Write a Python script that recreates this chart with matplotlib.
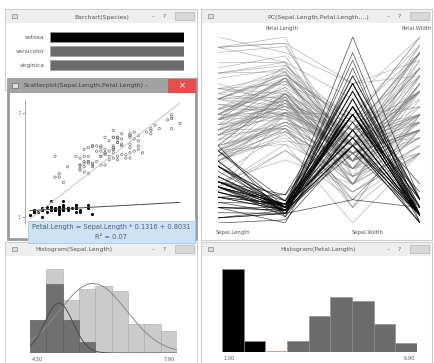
import numpy as np
import matplotlib
matplotlib.use('Agg')
import matplotlib.pyplot as plt
from matplotlib.patches import Rectangle

plt.rcParams['font.family'] = ['DejaVu Sans']

# iris data (50 setosa, 50 versicolor, 50 virginica)
sepal_length = [
    5.1, 4.9, 4.7, 4.6, 5.0, 5.4, 4.6, 5.0, 4.4, 4.9, 5.4, 4.8, 4.8, 4.3, 5.8, 5.7, 5.4, 5.1, 5.7, 5.1,
    5.4, 5.1, 4.6, 5.1, 4.8, 5.0, 5.0, 5.2, 5.2, 4.7, 4.8, 5.4, 5.2, 5.5, 4.9, 5.0, 5.5, 4.9, 4.4, 5.1,
    5.0, 4.5, 4.4, 5.0, 5.1, 4.8, 5.1, 4.6, 5.3, 5.0,
    7.0, 6.4, 6.9, 5.5, 6.5, 5.7, 6.3, 4.9, 6.6, 5.2, 5.0, 5.9, 6.0, 6.1, 5.6, 6.7, 5.6, 5.8, 6.2, 5.6,
    5.9, 6.1, 6.3, 6.1, 6.4, 6.6, 6.8, 6.7, 6.0, 5.7, 5.5, 5.5, 5.8, 6.0, 5.4, 6.0, 6.7, 6.3, 5.6, 5.5,
    5.5, 6.1, 5.8, 5.0, 5.6, 5.7, 5.7, 6.2, 5.1, 5.7,
    6.3, 5.8, 7.1, 6.3, 6.5, 7.6, 4.9, 7.3, 6.7, 7.2, 6.5, 6.4, 6.8, 5.7, 5.8, 6.4, 6.5, 7.7, 7.7, 6.0,
    6.9, 5.6, 7.7, 6.3, 6.7, 7.2, 6.2, 6.1, 6.4, 7.2, 7.4, 7.9, 6.4, 6.3, 6.1, 7.7, 6.3, 6.4, 6.0, 6.9,
    6.7, 6.9, 5.8, 6.8, 6.7, 6.7, 6.3, 6.5, 6.2, 5.9]
sepal_width = [
    3.5, 3.0, 3.2, 3.1, 3.6, 3.9, 3.4, 3.4, 2.9, 3.1, 3.7, 3.4, 3.0, 3.0, 4.0, 4.4, 3.9, 3.5, 3.8, 3.8,
    3.4, 3.7, 3.6, 3.3, 3.4, 3.0, 3.4, 3.5, 3.4, 3.2, 3.1, 3.4, 4.1, 4.2, 3.1, 3.2, 3.5, 3.6, 3.0, 3.4,
    3.5, 2.3, 3.2, 3.5, 3.8, 3.0, 3.8, 3.2, 3.7, 3.3,
    3.2, 3.2, 3.1, 2.3, 2.8, 2.8, 3.3, 2.4, 2.9, 2.7, 2.0, 3.0, 2.2, 2.9, 2.9, 3.1, 3.0, 2.7, 2.2, 2.5,
    3.2, 2.8, 2.5, 2.8, 2.9, 3.0, 2.8, 3.0, 2.9, 2.6, 2.4, 2.4, 2.7, 2.7, 3.0, 3.4, 3.1, 2.3, 3.0, 2.5,
    2.6, 3.0, 2.6, 2.3, 2.7, 3.0, 2.9, 2.9, 2.5, 2.8,
    3.3, 2.7, 3.0, 2.9, 3.0, 3.0, 2.5, 2.9, 2.5, 3.6, 3.2, 2.7, 3.0, 2.5, 2.8, 3.2, 3.0, 3.8, 2.6, 2.2,
    3.2, 2.8, 2.8, 2.7, 3.3, 3.2, 2.8, 3.0, 2.8, 3.0, 2.8, 3.8, 2.8, 2.8, 2.6, 3.0, 3.4, 3.1, 3.0, 3.1,
    3.1, 3.1, 2.7, 3.2, 3.3, 3.0, 2.5, 3.0, 3.4, 3.0]
petal_length = [
    1.4, 1.4, 1.3, 1.5, 1.4, 1.7, 1.4, 1.5, 1.4, 1.5, 1.5, 1.6, 1.4, 1.1, 1.2, 1.5, 1.3, 1.4, 1.7, 1.5,
    1.7, 1.5, 1.0, 1.7, 1.9, 1.6, 1.6, 1.5, 1.4, 1.6, 1.6, 1.5, 1.5, 1.4, 1.5, 1.2, 1.3, 1.4, 1.3, 1.5,
    1.3, 1.3, 1.3, 1.6, 1.9, 1.4, 1.6, 1.4, 1.5, 1.4,
    4.7, 4.5, 4.9, 4.0, 4.6, 4.5, 4.7, 3.3, 4.6, 3.9, 3.5, 4.2, 4.0, 4.7, 3.6, 4.4, 4.5, 4.1, 4.5, 3.9,
    4.8, 4.0, 4.9, 4.7, 4.3, 4.4, 4.8, 5.0, 4.5, 3.5, 3.8, 3.7, 3.9, 5.1, 4.5, 4.5, 4.7, 4.4, 4.1, 4.0,
    4.4, 4.6, 4.0, 3.3, 4.2, 4.2, 4.2, 4.3, 3.0, 4.1,
    6.0, 5.1, 5.9, 5.6, 5.8, 6.6, 4.5, 6.3, 5.8, 6.1, 5.1, 5.3, 5.5, 5.0, 5.1, 5.3, 5.5, 6.7, 6.9, 5.0,
    5.7, 4.9, 6.7, 4.9, 5.7, 6.0, 4.8, 4.9, 5.6, 5.8, 6.1, 6.4, 5.6, 5.1, 5.6, 6.1, 5.6, 5.5, 4.8, 5.4,
    5.6, 5.1, 5.1, 5.9, 5.7, 5.2, 5.0, 5.2, 5.4, 5.1]
petal_width = [
    0.2, 0.2, 0.2, 0.2, 0.2, 0.4, 0.3, 0.2, 0.2, 0.1, 0.2, 0.2, 0.1, 0.1, 0.2, 0.4, 0.4, 0.3, 0.3, 0.3,
    0.2, 0.4, 0.2, 0.5, 0.2, 0.2, 0.4, 0.2, 0.2, 0.2, 0.2, 0.4, 0.1, 0.2, 0.2, 0.2, 0.2, 0.1, 0.2, 0.2,
    0.3, 0.3, 0.2, 0.6, 0.4, 0.3, 0.2, 0.2, 0.2, 0.2,
    1.4, 1.5, 1.5, 1.3, 1.5, 1.3, 1.6, 1.0, 1.3, 1.4, 1.0, 1.5, 1.0, 1.4, 1.3, 1.4, 1.5, 1.0, 1.5, 1.1,
    1.8, 1.3, 1.5, 1.2, 1.3, 1.4, 1.4, 1.7, 1.5, 1.0, 1.1, 1.0, 1.2, 1.6, 1.5, 1.6, 1.5, 1.3, 1.3, 1.3,
    1.2, 1.4, 1.2, 1.0, 1.3, 1.2, 1.3, 1.3, 1.1, 1.3,
    2.5, 1.9, 2.1, 1.8, 2.2, 2.1, 1.7, 1.8, 1.8, 2.5, 2.0, 1.9, 2.1, 2.0, 2.4, 2.3, 1.8, 2.2, 2.3, 1.5,
    2.3, 2.0, 2.0, 1.8, 2.1, 1.8, 1.8, 1.8, 2.1, 1.6, 1.9, 2.0, 2.2, 1.5, 1.4, 2.3, 2.4, 1.8, 1.8, 2.1,
    2.4, 2.3, 1.9, 2.3, 2.5, 2.3, 1.9, 2.0, 2.3, 1.8]

species = ['setosa', 'versicolor', 'virginica']
species_counts = [50, 50, 50]
n_setosa = 50

# histogram bar heights
sepal_bins = [4.3, 4.7, 5.1, 5.5, 5.9, 6.3, 6.7, 7.1, 7.5, 7.9]
sepal_all = [18, 46, 29, 35, 37, 34, 16, 16, 12]
sepal_sel = [18, 38, 18, 6, 0, 0, 0, 0, 0]
petal_edges = [1.0, 1.656, 2.311, 2.967, 3.622, 4.278, 4.933, 5.589, 6.244, 6.9]
petal_counts = [44, 6, 0, 6, 19, 29, 27, 15, 5]
petal_selected = [True, True, False, False, False, False, False, False, False]

W, H = 435, 363
fig = plt.figure(figsize=(W / 100, H / 100), dpi=100)
fig.patch.set_facecolor('white')


def px_axes(x0, y0, x1, y1):
    '''Axes placed by pixel box (top-left origin).'''
    return fig.add_axes([x0 / W, 1 - y1 / H, (x1 - x0) / W, (y1 - y0) / H])


def draw_window(ax, x0, y0, x1, y1, title, title_x):
    ax.add_patch(Rectangle((x0, y0), x1 - x0, y1 - y0, fc='white',
                           ec='#cdcdcd', lw=0.8))
    ax.add_patch(Rectangle((x0 + 1, y0 + 1), x1 - x0 - 2, 13, fc='#eeeeee',
                           ec='none'))
    ax.text(title_x, y0 + 8, title, fontsize=4.4, color='#555555',
            ha='center', va='center')
    # window icon
    ax.add_patch(Rectangle((x0 + 7, y0 + 5), 5, 4, fc='#dddddd', ec='#888888',
                           lw=0.5))
    # min / help / close buttons
    ax.text(x1 - 44, y0 + 8, '\u2013', fontsize=4.5, color='#666666',
            ha='center', va='center')
    ax.text(x1 - 33, y0 + 7.5, '?', fontsize=4.5, color='#666666',
            ha='center', va='center')
    ax.add_patch(Rectangle((x1 - 22, y0 + 3), 19, 8, fc='#d8d8d8',
                           ec='#b5b5b5', lw=0.5))


# background with the window frames
bg = fig.add_axes([0, 0, 1, 1])
bg.set_xlim(0, W)
bg.set_ylim(H, 0)
bg.axis('off')
draw_window(bg, 5, 9, 197, 90, 'Barchart(Species)', 102)
draw_window(bg, 201, 9, 432, 240, 'PC(Sepal.Length,Petal.Length,...)', 318)
draw_window(bg, 5, 242, 197, 370, 'Histogram(Sepal.Length)', 74)
draw_window(bg, 201, 242, 432, 370, 'Histogram(Petal.Length)', 318)

# ---- barchart ----
ax = px_axes(50, 30, 184, 72)
ax.barh(range(len(species)), species_counts, height=0.68,
        color=['black', '#6b6b6b', '#6b6b6b'], edgecolor='#9a9a9a', lw=0.4)
ax.set_ylim(len(species) - 0.5, -0.5)
ax.set_xlim(0, max(species_counts))
ax.set_yticks(range(len(species)))
ax.set_yticklabels(species, fontsize=4.2, color='#555555')
ax.tick_params(axis='y', length=0, pad=4)
ax.set_xticks([])
for s in ax.spines.values():
    s.set_visible(False)

# ---- parallel coordinates ----
cols = [sepal_length, petal_length, sepal_width, petal_width]
names = ['Sepal.Length', 'Petal.Length', 'Sepal.Width', 'Petal.Width']
norm = []
for c in cols:
    a = np.array(c)
    norm.append((a - a.min()) / (a.max() - a.min()))
norm = np.array(norm).T
ax = px_axes(218, 37, 420, 223)
for i in range(n_setosa, len(norm)):
    ax.plot(range(4), norm[i], color='#7c7c7c', lw=0.5, alpha=0.55)
for i in range(n_setosa):
    ax.plot(range(4), norm[i], color='black', lw=0.5, alpha=0.7)
ax.set_xlim(0, 3)
ax.set_ylim(0, 1)
ax.axis('off')
for k, name in enumerate(names):
    if k % 2 == 0:
        ax.text(k + 0.22, -0.04, name, fontsize=3.8, color='#555555',
                ha='center', va='top')
    else:
        ax.text(k - 0.05, 1.03, name, fontsize=3.8, color='#555555',
                ha='center', va='bottom')

# ---- histogram Sepal.Length ----
ax = px_axes(30, 262, 177, 353)
widths = np.diff(sepal_bins)
ax.bar(sepal_bins[:-1], sepal_all, width=widths, align='edge',
       color='#cbcbcb', edgecolor='#a8a8a8', lw=0.4)
ax.bar(sepal_bins[:-1], sepal_sel, width=widths, align='edge',
       color='#707070', edgecolor='#5a5a5a', lw=0.4)
xs = np.linspace(4.3, 7.9, 200)
sl = np.array(sepal_length)
m_all, s_all = sl.mean(), sl.std()
m_sel, s_sel = sl[:n_setosa].mean(), sl[:n_setosa].std()
pdf_all = np.exp(-0.5 * ((xs - m_all) / s_all) ** 2) / (s_all * np.sqrt(2 * np.pi))
pdf_sel = np.exp(-0.5 * ((xs - m_sel) / s_sel) ** 2) / (s_sel * np.sqrt(2 * np.pi))
ax.plot(xs, pdf_all * 79, color='#8a8a8a', lw=0.7)
ax.plot(xs, pdf_sel * 24, color='#4a4a4a', lw=0.7)
ax.set_xlim(4.3, 7.9)
ax.set_ylim(0, 50)
ax.axis('off')
ax.text(4.35, -2, '4.30', fontsize=3.6, color='#555555', ha='left', va='top')
ax.text(7.85, -2, '7.90', fontsize=3.6, color='#555555', ha='right', va='top')

# ---- histogram Petal.Length ----
ax = px_axes(222, 265, 417, 352)
pw = np.diff(petal_edges)
pcol = ['black' if s else '#6b6b6b' for s in petal_selected]
ax.bar(petal_edges[:-1], petal_counts, width=pw, align='edge', color=pcol,
       edgecolor='#8a8a8a', lw=0.4)
for k, c in enumerate(petal_counts):
    if c == 0:
        ax.plot([petal_edges[k], petal_edges[k + 1]], [0.3, 0.3],
                color='#e29a9a', lw=0.8)
ax.set_xlim(1.0, 6.9)
ax.set_ylim(0, 46)
ax.axis('off')
ax.text(1.05, -2, '1.00', fontsize=3.6, color='#555555', ha='left', va='top')
ax.text(6.85, -2, '6.90', fontsize=3.6, color='#555555', ha='right', va='top')

# ---- floating scatterplot window (on top) ----
top = fig.add_axes([0, 0, 1, 1])
top.set_xlim(0, W)
top.set_ylim(H, 0)
top.axis('off')
top.patch.set_alpha(0)
top.add_patch(Rectangle((8, 79), 188, 160, fc='white', ec='#9a9a9a', lw=2.0))
top.add_patch(Rectangle((8, 79), 188, 14, fc='#a2a2a2', ec='none'))
top.add_patch(Rectangle((12, 83), 6, 5, fc='#dddddd', ec='#6a6a6a', lw=0.5))
top.text(24, 86, 'Scatterplot(Sepal.Length,Petal.Length)', fontsize=4.4,
         color='#3c3c3c', ha='left', va='center')
top.text(146, 86, '\u2013', fontsize=4.5, color='#444444', ha='center',
         va='center')
top.add_patch(Rectangle((168, 79), 28, 14, fc='#e2504d', ec='none'))
top.text(182, 86, '\u00d7', fontsize=6, color='white', ha='center',
         va='center')

sl = np.array(sepal_length)
pl = np.array(petal_length)
ax = px_axes(25, 100, 190, 224)
ax.set_xlim(4.18, 8.14)
ax.set_ylim(0.596, 7.75)
b_all, a_all = np.polyfit(sl, pl, 1)
b_sel, a_sel = np.polyfit(sl[:n_setosa], pl[:n_setosa], 1)
r2 = np.corrcoef(sl[:n_setosa], pl[:n_setosa])[0, 1] ** 2
xl = np.array([sl.min(), sl.max()])
ax.plot(xl, a_all + b_all * xl, color='#c4c4c4', lw=0.7)
ax.plot(xl, a_sel + b_sel * xl, color='#4a4a4a', lw=0.7)
ax.scatter(sl[n_setosa:], pl[n_setosa:], s=3, facecolors='none',
           edgecolors='#777777', linewidths=0.5)
ax.scatter(sl[:n_setosa], pl[:n_setosa], s=5, color='black', marker='o',
           linewidths=0)
ax.set_yticks([1, 7])
ax.set_yticklabels(['1', '7'], fontsize=3.8, color='#555555')
ax.tick_params(axis='y', length=2, width=0.5, colors='#777777', pad=1)
ax.set_xticks([])
for side in ['top', 'right', 'bottom']:
    ax.spines[side].set_visible(False)
ax.spines['left'].set_color('#9a9a9a')
ax.spines['left'].set_linewidth(0.6)
ax.patch.set_alpha(0)

# regression tooltip
top2 = fig.add_axes([0, 0, 1, 1])
top2.set_xlim(0, W)
top2.set_ylim(H, 0)
top2.axis('off')
top2.patch.set_alpha(0)
top2.add_patch(Rectangle((28, 221), 167, 22, fc='#cfe2f4', ec='#a9c7e3',
                         lw=0.6))
top2.text(111, 227, 'Petal.Length = Sepal.Length * %.4f + %.4f'
          % (b_sel, a_sel), fontsize=4.8, color='#3f6185', ha='center',
          va='center')
top2.text(111, 237, 'R\u00b2 = %.2f' % r2, fontsize=4.8, color='#3f6185',
          ha='center', va='center')

fig.savefig('out.png', dpi=100)
